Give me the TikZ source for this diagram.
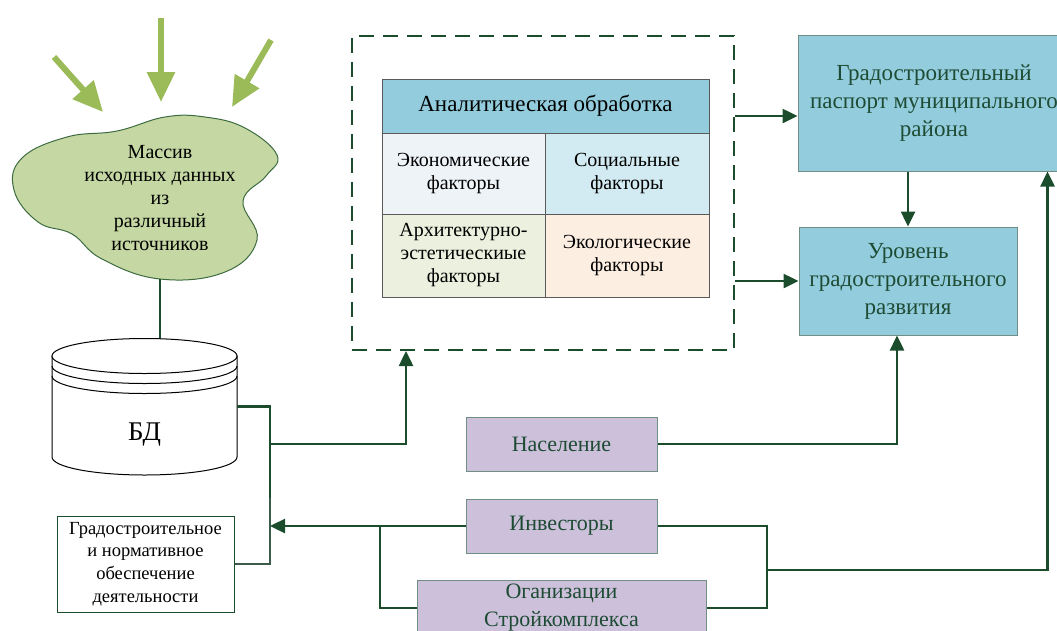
\documentclass[tikz,border=0pt]{standalone}
\usepackage{fontspec}
\setmainfont{Liberation Serif}
\usetikzlibrary{arrows.meta}

\definecolor{linegreen}{HTML}{1B4D2C}
\definecolor{olivearrow}{HTML}{9BBB59}
\definecolor{blobfill}{HTML}{C5D8A4}
\definecolor{blobline}{HTML}{3D6B3F}
\definecolor{boxblue}{HTML}{93CDDD}
\definecolor{boxpurple}{HTML}{CCC0DA}
\definecolor{boxline}{HTML}{6F8F84}
\definecolor{econfill}{HTML}{EEF3F8}
\definecolor{socfill}{HTML}{D2EAF1}
\definecolor{archfill}{HTML}{EBF1DE}
\definecolor{ecofill}{HTML}{FDEEE2}
\definecolor{textgreen}{HTML}{1E4B34}
\definecolor{cellline}{HTML}{5A5A5A}

\begin{document}
\begin{tikzpicture}[x=1pt,y=-1pt,
  conn/.style={linegreen,line width=2.5pt},
  arr/.style={-{Triangle[length=15pt,width=14pt]}},
  cell/.style={draw=cellline,line width=1pt,align=center,inner sep=0pt,
    font=\fontsize{20}{23}\selectfont},
  bluebox/.style={draw=boxline,fill=boxblue,text=textgreen,line width=1pt,
    align=center,inner sep=0pt,font=\fontsize{23}{28}\selectfont},
  purplebox/.style={draw=boxline,fill=boxpurple,text=textgreen,line width=1pt,
    align=center,inner sep=0pt,font=\fontsize{22}{28}\selectfont}]
  \useasboundingbox (0,0) rectangle (1057,630);
  \clip (0,0) rectangle (1057,630);

  % data sources
  \coordinate (src1) at (54,57);
  \coordinate (src2) at (161,18);
  \coordinate (src3) at (271,40);
  \coordinate (in1) at (103,112);
  \coordinate (in2) at (161,102);
  \coordinate (in3) at (232,107);
  \draw[olivearrow,line width=6pt,-{Triangle[length=30pt,width=27pt]}] (src1) -- (in1);
  \draw[olivearrow,line width=6pt,-{Triangle[length=30pt,width=27pt]}] (src2) -- (in2);
  \draw[olivearrow,line width=6pt,-{Triangle[length=30pt,width=27pt]}] (src3) -- (in3);

  \draw[blobline,fill=blobfill,line width=1pt] plot[smooth cycle,tension=0.7] coordinates {
    (165,117) (117,131) (67,137) (22,158) (14,190) (38,222) (72,234) (102,259)
    (160,279) (225,272) (257,240) (243,201) (266,176) (277,155) (245,128) (205,117)};
  \node[font=\fontsize{20}{23}\selectfont,align=center] (blob) at (160,198)
    {Массив\\исходных данных\\из\\различный\\источников};
  \coordinate (blobbot) at (160,279);

  % database
  \node[minimum width=185,minimum height=101,inner sep=0pt] (bd) at (144.5,406.5) {};
  \draw[conn,line width=2pt] (blobbot) -- (blobbot |- bd.north);
  \begin{scope}[line width=1pt]
    \draw[fill=white] (52,356) -- (52,457) arc[start angle=180,end angle=0,x radius=92.5,y radius=18] -- (237,356) -- cycle;
    \draw[fill=white] (144.5,356) ellipse[x radius=92.5,y radius=17.5];
    \draw (52,366) arc[start angle=180,end angle=0,x radius=92.5,y radius=17.5];
    \draw (52,376) arc[start angle=180,end angle=0,x radius=92.5,y radius=17.5];
  \end{scope}
  \node[font=\fontsize{27}{30}\selectfont] (bdname) at (144.5,435) {БД};

  \node[draw=linegreen,line width=1pt,fill=white,align=center,inner sep=0pt,
    minimum width=177,minimum height=96,font=\fontsize{18.5}{22.7}\selectfont] (norm)
    at (145.5,564) {Градостроительное\\и нормативное\\обеспечение\\деятельности};

  % analysis
  \node[draw=linegreen,line width=2pt,dash pattern=on 15pt off 9pt,
    minimum width=382,minimum height=314] (frame) at (543,193) {};
  \node[cell,fill=boxblue,minimum width=327,minimum height=54,
    font=\fontsize{23}{27}\selectfont] (head) at (545.5,106) {Аналитическая обработка};
  \node[cell,fill=econfill,minimum width=163,minimum height=81] (econ) at (463.5,173.5) {Экономические\\факторы};
  \node[cell,fill=socfill,minimum width=164,minimum height=81] (soc) at (627,173.5) {Социальные\\факторы};
  \node[cell,fill=archfill,minimum width=163,minimum height=83] (arch) at (463.5,255.5) {Архитектурно-\\эстетическиые\\факторы};
  \node[cell,fill=ecofill,minimum width=164,minimum height=83] (eco) at (627,255.5) {Экологические\\факторы};

  % results
  \node[bluebox,minimum width=272,minimum height=136] (pass) at (934,103)
    {Градостроительный\\паспорт муниципального\\района};
  \node[bluebox,minimum width=218,minimum height=108] (ur) at (908,281)
    {Уровень\\градостроительного\\развития};

  % participants
  \node[purplebox,minimum width=191,minimum height=54] (nas) at (561.5,444) {Население};
  \node[purplebox,minimum width=191,minimum height=54] (inv) at (561.5,526) {Инвесторы};
  \node[purplebox,minimum width=289,minimum height=56] (org) at (561.5,608) {Оганизации\\Стройкомплекса};

  % connectors
  \coordinate (busend) at (270,498);
  \coordinate (bus) at (270,444);
  \coordinate (jl) at (380,526);
  \coordinate (jr) at (767,570);
  \coordinate (framein) at ([xshift=-137pt]frame.south);
  \coordinate (passin) at ([yshift=-13pt]pass.west);
  \coordinate (passup) at ([xshift=-23pt]pass.south east);
  \coordinate (urin) at ([xshift=-11pt]ur.south);

  \draw[conn] (bd.east) -| (busend);
  \draw[textgreen!70!gray,line width=1.3pt] (norm.east) -| (busend);
  \draw[conn,arr] (bus) -| (framein);
  \draw[conn,arr] (frame.east |- passin) -- (passin);
  \draw[conn,arr] (frame.east |- ur.west) -- (ur.west);
  \draw[conn,arr] (ur.north |- pass.south) -- (ur.north);
  \draw[conn,arr] (nas.east) -| (urin);
  \draw[conn,arr] (inv.west) -- (inv.west -| bus);
  \draw[conn] (org.west) -| (jl);
  \draw[conn] (inv.east) -| (jr) |- (org.east);
  \draw[conn,arr] (jr) -| (passup);
\end{tikzpicture}
\end{document}
